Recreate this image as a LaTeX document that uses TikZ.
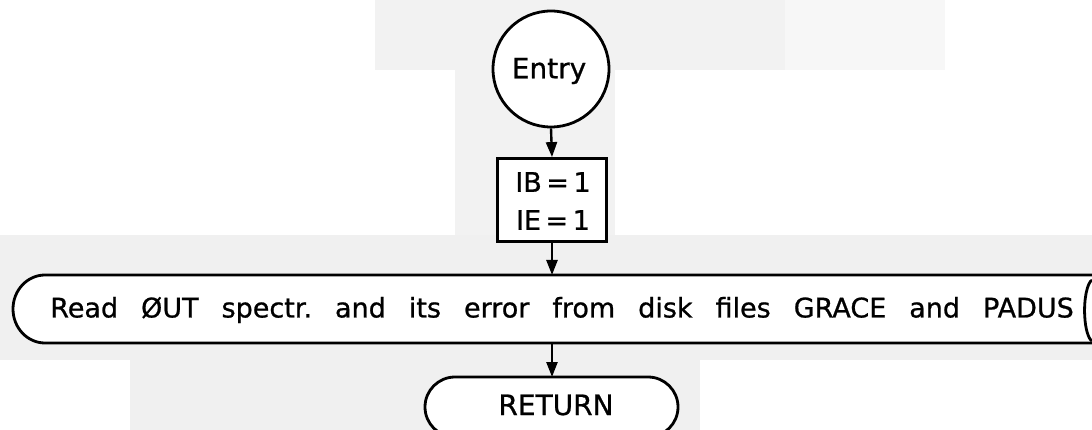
\documentclass[tikz,border=0pt]{standalone}
\usepackage{fontspec}
\setmainfont{DejaVu Sans}
\newfontfamily\heavy[FakeBold=0.8]{DejaVu Sans}
\usetikzlibrary{arrows.meta}
\newcommand\wsp{\hspace{23pt}}
\begin{document}
\begin{tikzpicture}[x=1pt,y=1pt,
  shape line/.style={line width=2.8pt,draw=black},
  flow/.style={line width=2.4pt,-{Triangle[length=15pt,width=11pt]}},
  lbl/.style={inner sep=0pt,font=\heavy\fontsize{28}{34}\selectfont}]
\useasboundingbox (0,0) rectangle (1092,-430);
\fill[white] (0,0) rectangle (1092,-430);
% faint scan patches
\fill[black!5] (375,0) rectangle (785,-70);
\fill[black!3] (785,0) rectangle (945,-70);
\fill[black!5] (455,-70) rectangle (615,-240);
\fill[black!6] (0,-235) rectangle (1092,-430);
\fill[white] (0,-360) rectangle (130,-430);
\fill[white] (700,-360) rectangle (1092,-430);
\begin{scope}
\clip (0,0) rectangle (1092,-430);
% Entry circle
\node[shape line,circle,minimum size=116pt,inner sep=0pt,fill=white] (entry) at (551,-69) {};
\node[lbl] (entrytxt) at (549,-71) {Entry};
% IB/IE box
\node[shape line,rectangle,minimum width=109pt,minimum height=83pt,inner sep=0pt,fill=white] (init) at (552,-200) {};
\node[lbl,align=center,font=\heavy\fontsize{27}{38}\selectfont] (inittxt) at (553,-201) {IB\,=\,1\\IE\,=\,1};
% Read box (rounded left end, runs off right edge)
\coordinate (readtop) at (552,-275);
\coordinate (readbot) at (552,-343);
\draw[shape line,fill=white] (1100,-275) -- (45,-275) arc[start angle=90,end angle=270,x radius=32,y radius=34] -- (1100,-343);
\draw[shape line] (1092,-280) arc[start angle=100,end angle=260,x radius=9,y radius=31];
\node[lbl,font=\heavy\fontsize{27}{32}\selectfont] (readtxt) at (562,-310) {Read\wsp ØUT\wsp spectr.\wsp and\wsp its\wsp error\wsp from\wsp disk\wsp files\wsp GRACE\wsp and\wsp PADUS};
% RETURN terminal
\draw[shape line,fill=white] (455,-377) -- (648,-377) arc[start angle=90,end angle=-90,x radius=30,y radius=30] -- (455,-437) arc[start angle=270,end angle=90,x radius=30,y radius=30] -- cycle;
\coordinate (rettop) at (552,-377);
\node[lbl] (rettxt) at (556,-405) {RETURN};
% connectors
\draw[flow] (entry.south) -- (init.north);
\draw[flow] (init.south) -- (readtop);
\draw[flow] (readbot) -- (rettop);
\end{scope}
\end{tikzpicture}
\end{document}
